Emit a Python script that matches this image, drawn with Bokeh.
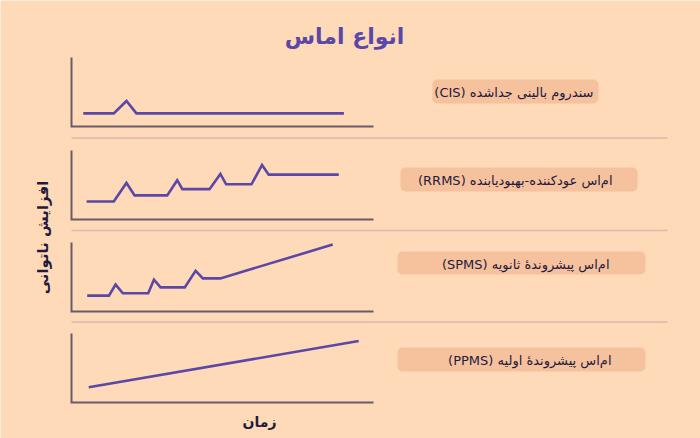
from bokeh.plotting import figure
from bokeh.models import Range1d, Label, BoxAnnotation
from bokeh.embed import file_html
from bokeh.resources import INLINE

# ---------------- data (time 0-100, disability 0-10) ----------------
time_cis = [3.9, 14.0, 18.2, 21.5, 90.2]
dis_cis = [1.9, 1.9, 3.7, 1.9, 1.9]

time_rrms = [5.0, 14.0, 18.2, 20.9, 31.7, 35.0, 36.7, 45.7, 49.3, 51.2, 59.6, 63.1, 65.3, 88.5]
dis_rrms = [2.6, 2.6, 5.3, 3.5, 3.5, 5.7, 4.4, 4.4, 6.6, 5.1, 5.1, 7.9, 6.5, 6.5]

time_spms = [5.2, 12.4, 14.6, 17.0, 25.4, 27.3, 29.5, 37.5, 41.1, 43.5, 49.3, 86.5]
dis_spms = [2.3, 2.3, 3.9, 2.65, 2.65, 4.6, 3.5, 3.5, 5.9, 4.8, 4.8, 9.7]

time_ppms = [5.7, 95.1]
dis_ppms = [2.2, 8.9]

type_labels = [
    "سندروم بالینی جداشده (CIS)",
    "ام‌اس عودکننده-بهبودیابنده (RRMS)",
    "ام‌اس پیشروندهٔ ثانویه (SPMS)",
    "ام‌اس پیشروندهٔ اولیه (PPMS)",
]
title_text = "انواع اماس"
y_label_text = "افزایش ناتوانی"
x_label_text = "زمان"

series = [(time_cis, dis_cis), (time_rrms, dis_rrms), (time_spms, dis_spms), (time_ppms, dis_ppms)]

# ---------------- styles / layout ----------------
BG = "#FEDAB8"
BOX = "#F6C29D"
SEP = "#E2B5B0"
AXIS = "#6B5A69"
PURPLE = "#5B47A8"
DARK = "#231A3D"
FONT = "DejaVu Sans"

W, H = 700, 438
panel_left, panel_right = 71, 373
panel_bottoms = [126, 219, 311, 402]
panel_h = 69
boxes = [(432, 598, 79, 103), (400, 637, 167, 191), (397, 645, 251, 274), (397, 645, 347, 371)]
text_right = [593, 612, 609, 611]

p = figure(width=W, height=H, x_range=Range1d(0, W), y_range=Range1d(H, 0),
           output_backend="svg", toolbar_location=None, min_border=0,
           x_axis_location=None, y_axis_location=None)
p.grid.visible = False
p.outline_line_color = None
p.background_fill_color = BG
p.border_fill_color = BG

# separators between panels
for i in range(3):
    ysep = (panel_bottoms[i] + panel_bottoms[i + 1] - panel_h) / 2 - 0.5
    p.line(x=[panel_left, 667], y=[ysep, ysep], line_color=SEP, line_width=1.3)

for i, (tx, dy) in enumerate(series):
    xs = Range1d(0, 100)
    ys = Range1d(0, 10)
    b = panel_bottoms[i]
    sub = p.subplot(x_source=xs, y_source=ys,
                    x_target=Range1d(panel_left, panel_right),
                    y_target=Range1d(b, b - panel_h))
    sub.line(x=[xs.start, xs.start, xs.end], y=[ys.end, ys.start, ys.start],
             line_color=AXIS, line_width=2, line_join="miter")
    sub.line(x=tx, y=dy, line_color=PURPLE, line_width=2.6, line_join="miter")

    l, r, t, bt = boxes[i]
    p.add_layout(BoxAnnotation(left=l, right=r, top=t, bottom=bt, fill_color=BOX,
                               fill_alpha=1, line_color=None, border_radius=5, level="underlay"))
    p.add_layout(Label(x=text_right[i], y=(t + bt) / 2 + 1, text="\u202b" + type_labels[i] + "\u202c",
                       text_align="right", text_baseline="middle", text_font=FONT,
                       text_font_size="13px", text_color=DARK))

p.add_layout(Label(x=344, y=36, text=title_text, text_align="center", text_baseline="middle",
                   text_font=FONT, text_font_style="bold", text_font_size="22px", text_color=PURPLE))
p.add_layout(Label(x=42, y=237, text=y_label_text, text_align="center", text_baseline="middle",
                   angle=90, angle_units="deg", text_font=FONT, text_font_style="bold",
                   text_font_size="15px", text_color=DARK))
p.add_layout(Label(x=259, y=421, text=x_label_text, text_align="center", text_baseline="middle",
                   text_font=FONT, text_font_style="bold", text_font_size="14px", text_color=DARK))

open("out.html", "w").write(file_html(p, INLINE))
